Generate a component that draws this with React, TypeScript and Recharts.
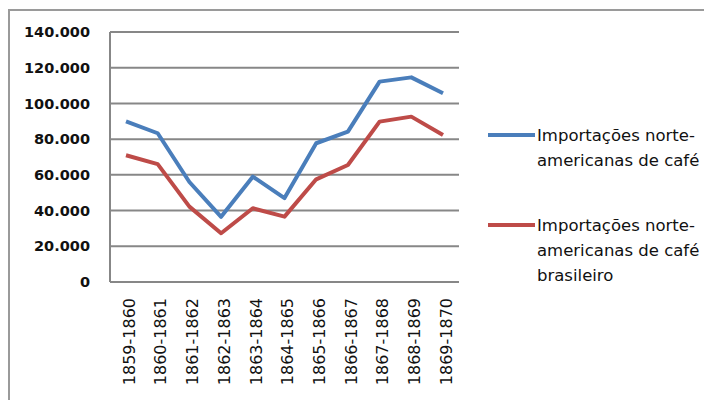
import React from 'react';
import { LineChart, Line, XAxis, YAxis, CartesianGrid } from 'recharts';

const categories = [
  '1859-1860', '1860-1861', '1861-1862', '1862-1863', '1863-1864', '1864-1865',
  '1865-1866', '1866-1867', '1867-1868', '1868-1869', '1869-1870',
];
const totalImports = [90000, 83300, 56000, 36500, 59000, 47000, 77700, 84200, 112200, 114600, 105700];
const brazilImports = [71000, 66000, 42200, 27300, 41300, 36600, 57500, 65500, 89800, 92600, 82300];
const yTicks = [0, 20000, 40000, 60000, 80000, 100000, 120000, 140000];

const series = [
  { key: 'total', name: ['Importações norte-', 'americanas de café'], color: '#4A7EBB', values: totalImports },
  { key: 'brazil', name: ['Importações norte-', 'americanas de café', 'brasileiro'], color: '#BE4B48', values: brazilImports },
];

const data = categories.map((c, i) => ({ cat: c, total: totalImports[i], brazil: brazilImports[i] }));

const fmt = (v: number) => String(v).replace(/\B(?=(\d{3})+(?!\d))/g, '.');

const XTick = (props: any) => {
  const { x, y, payload } = props;
  return (
    <text
      x={x + 3}
      y={y}
      transform={`rotate(-90 ${x + 3} ${y})`}
      textAnchor="end"
      dy="0.36em"
      fontSize={16}
      fontFamily="DejaVu Sans"
      fill="#111"
    >
      {payload.value}
    </text>
  );
};

const gray = '#878787';

export default function App() {
  return (
    <div style={{ position: 'relative', width: 704, height: 392 }}>
      <div
        style={{
          position: 'absolute', left: 0, top: 1, right: 0, bottom: 0,
          borderLeft: '2px solid #9a9a9a', borderTop: '2px solid #9a9a9a',
        }}
      />
      <LineChart width={704} height={392} data={data} margin={{ top: 24, right: 253, left: 8, bottom: 0 }}>
        <CartesianGrid vertical={false} stroke={gray} strokeWidth={2} />
        <XAxis
          dataKey="cat"
          interval={0}
          height={118}
          padding={{ left: 16, right: 16 }}
          tick={<XTick />}
          tickLine={false}
          tickSize={0}
          tickMargin={16}
          axisLine={{ stroke: gray, strokeWidth: 2 }}
        />
        <YAxis
          width={94}
          domain={[0, 140000]}
          ticks={yTicks}
          tickFormatter={fmt}
          tickLine={false}
          tickSize={0}
          tickMargin={20}
          axisLine={{ stroke: gray, strokeWidth: 2 }}
          tick={{ fontSize: 14.5, fontFamily: 'DejaVu Sans', fontWeight: 'bold', fill: '#111' }}
        />
        {series.map((s) => (
          <Line
            key={s.key}
            dataKey={s.key}
            stroke={s.color}
            strokeWidth={4}
            dot={false}
            activeDot={false}
            type="linear"
            strokeLinejoin="round"
            isAnimationActive={false}
          />
        ))}
      </LineChart>
      {series.map((s, i) => (
        <div
          key={s.key}
          style={{
            position: 'absolute',
            left: 480,
            top: i === 0 ? 114.5 : 204.5,
            display: 'flex',
            alignItems: 'flex-start',
            fontFamily: 'DejaVu Sans',
            fontSize: 16.5,
            lineHeight: '25px',
            color: '#111',
          }}
        >
          <div style={{ width: 47, height: 4, background: s.color, marginTop: 10.5, marginRight: 2 }} />
          <div>
            {s.name.map((n) => (
              <div key={n}>{n}</div>
            ))}
          </div>
        </div>
      ))}
    </div>
  );
}
